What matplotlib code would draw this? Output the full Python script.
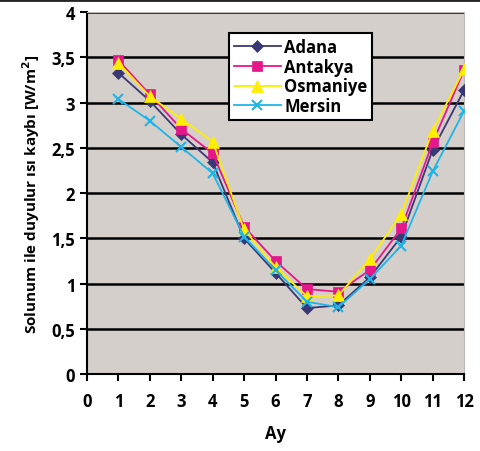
import matplotlib.pyplot as plt
from matplotlib.lines import Line2D

plt.rcParams['font.family'] = ['Open Sans', 'DejaVu Sans']
plt.rcParams['font.weight'] = 'bold'

months = list(range(1, 13))
adana = [3.33, 3.02, 2.65, 2.34, 1.50, 1.12, 0.73, 0.76, 1.07, 1.52, 2.48, 3.14]
antakya = [3.47, 3.09, 2.71, 2.44, 1.63, 1.25, 0.94, 0.91, 1.15, 1.61, 2.56, 3.36]
osmaniye = [3.44, 3.07, 2.82, 2.57, 1.60, 1.18, 0.86, 0.87, 1.27, 1.77, 2.69, 3.37]
mersin = [3.04, 2.80, 2.51, 2.22, 1.52, 1.15, 0.80, 0.74, 1.05, 1.42, 2.24, 2.91]

series = [
    ('Adana', adana, '#3a3874', 'D', 6),
    ('Antakya', antakya, '#e5178a', 's', 7),
    ('Osmaniye', osmaniye, '#ffee00', '^', 8),
    ('Mersin', mersin, '#1fb4e6', 'x', 7),
]

fig = plt.figure(figsize=(4.8, 4.52), dpi=100)
ax = fig.add_axes([0.181, 0.170, 0.786, 0.801])
ax.set_facecolor('#d5cfcc')

for name, vals, col, mk, ms in series:
    ax.plot(months, vals, color=col, marker=mk, markersize=ms, lw=1.3,
            markeredgewidth=1.5 if mk == 'x' else 0.5, markeredgecolor=col,
            label=name, zorder=3)

ax.set_xlim(0, 12)
ax.set_ylim(0, 4)
ax.set_xticks(range(0, 13))
ax.set_yticks([0, 0.5, 1, 1.5, 2, 2.5, 3, 3.5, 4])
ax.set_yticklabels(['0', '0,5', '1', '1,5', '2', '2,5', '3', '3,5', '4'])
ax.yaxis.grid(True, color='black', lw=1.8)
ax.set_axisbelow(True)
ax.tick_params(axis='both', labelsize=12, width=1.5, length=5, colors='black')
ax.tick_params(axis='x', pad=8)
for s in ['top', 'right']:
    ax.spines[s].set_color('#bdb8b5')
for s in ['left', 'bottom']:
    ax.spines[s].set_linewidth(1.5)

ax.set_xlabel('Ay', fontsize=12, fontweight='bold', labelpad=10)
ax.set_ylabel('Solunum ile duyulur ısı kaybı [W/m$^2$]', fontsize=11,
              fontweight='bold', labelpad=7)

leg = ax.legend(loc='upper left', bbox_to_anchor=(0.355, 0.965), fontsize=12,
                frameon=True, fancybox=False, edgecolor='black',
                handlelength=2.8, handletextpad=0.2, borderpad=0.3,
                labelspacing=0.1)
leg.get_frame().set_linewidth(1.5)
leg.get_frame().set_facecolor('white')
leg.get_frame().set_alpha(1)

fig.add_artist(Line2D([0, 1], [0.997, 0.997], color='#222222', lw=2,
                      transform=fig.transFigure))

fig.savefig('out.png', dpi=100)
